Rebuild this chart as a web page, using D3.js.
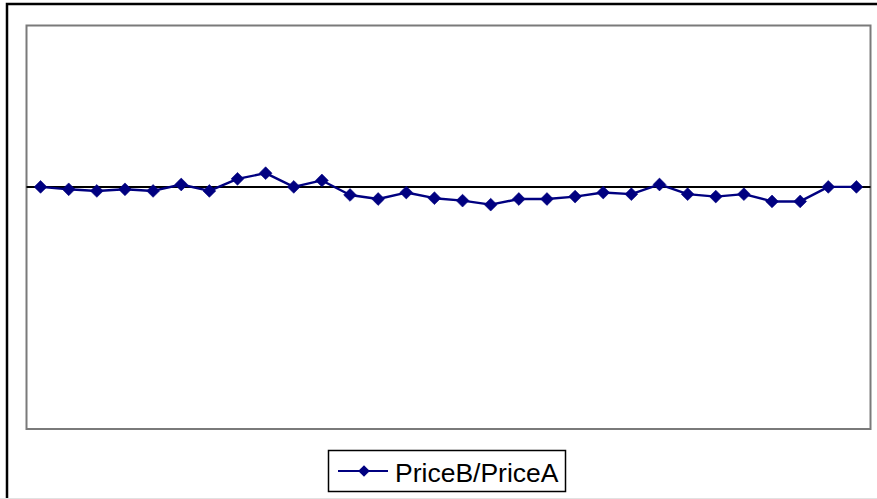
<!DOCTYPE html>
<html>
<head>
<meta charset="utf-8">
<script src="https://cdn.jsdelivr.net/npm/d3@7/dist/d3.min.js"></script>
<style>
  html, body { margin: 0; padding: 0; background: #fff; overflow: hidden; }
  svg { display: block; }
</style>
</head>
<body>
<svg id="chart" width="877" height="499"></svg>
<script>
// Periods along the category axis (labels are not shown on the chart)
const categories = d3.range(1, 31).map(String);

// Ratio of PriceB to PriceA for each period
const ratioValues = [
  1.000, 0.997, 0.995, 0.997, 0.995, 1.003, 0.995, 1.010, 1.017, 1.000,
  1.008, 0.990, 0.985, 0.993, 0.986, 0.983, 0.978, 0.985, 0.985, 0.988,
  0.993, 0.991, 1.003, 0.991, 0.988, 0.991, 0.982, 0.982, 1.000, 1.000
];

// Value axis range and the reference level drawn across the plot
const valueDomain = [0.7, 1.2];
const referenceLevel = 1.0;

const seriesName = "PriceB/PriceA";

const svg = d3.select("#chart");
const navy = "#000080";

// Chart area frame
svg.append("rect")
  .attr("x", 7).attr("y", 4)
  .attr("width", 880).attr("height", 505)
  .attr("fill", "#fff")
  .attr("stroke", "#000")
  .attr("stroke-width", 2.5);

svg.append("line")
  .attr("x1", 0).attr("x2", 877)
  .attr("y1", 498.5).attr("y2", 498.5)
  .attr("stroke", "#e2e2e2")
  .attr("stroke-width", 1);

// Plot area
const plot = { left: 26.5, top: 25.5, right: 870.5, bottom: 429 };

svg.append("rect")
  .attr("x", plot.left).attr("y", plot.top)
  .attr("width", plot.right - plot.left)
  .attr("height", plot.bottom - plot.top)
  .attr("fill", "#fff")
  .attr("stroke", "#7a7a7a")
  .attr("stroke-width", 2);

const x = d3.scalePoint()
  .domain(categories)
  .range([plot.left, plot.right])
  .padding(0.5);

const y = d3.scaleLinear()
  .domain(valueDomain)
  .range([plot.bottom, plot.top]);

// Reference line
svg.append("line")
  .attr("x1", plot.left).attr("x2", plot.right)
  .attr("y1", y(referenceLevel)).attr("y2", y(referenceLevel))
  .attr("stroke", "#000")
  .attr("stroke-width", 2);

const data = categories.map((c, i) => ({ c, v: ratioValues[i] }));

// Series line
svg.append("path")
  .datum(data)
  .attr("fill", "none")
  .attr("stroke", navy)
  .attr("stroke-width", 2.4)
  .attr("stroke-linejoin", "round")
  .attr("d", d3.line().x(d => x(d.c)).y(d => y(d.v)));

// Diamond markers
const diamond = (r) => `M0,${-r}L${r},0L0,${r}L${-r},0Z`;

svg.append("g")
  .selectAll("path")
  .data(data)
  .join("path")
  .attr("transform", d => `translate(${x(d.c)},${y(d.v)})`)
  .attr("d", diamond(6.4))
  .attr("fill", navy)
  .attr("stroke", navy)
  .attr("stroke-width", 0.6);

// Legend
const legend = svg.append("g");
legend.append("rect")
  .attr("x", 328.5).attr("y", 450.5)
  .attr("width", 237).attr("height", 41)
  .attr("fill", "#fff")
  .attr("stroke", "#000")
  .attr("stroke-width", 1.5);

legend.append("line")
  .attr("x1", 338).attr("x2", 388)
  .attr("y1", 471).attr("y2", 471)
  .attr("stroke", navy)
  .attr("stroke-width", 2);

legend.append("path")
  .attr("transform", "translate(364,471)")
  .attr("d", diamond(5.8))
  .attr("fill", navy);

legend.append("text")
  .attr("x", 395)
  .attr("y", 481.5)
  .attr("font-family", "'Liberation Sans', Arial, sans-serif")
  .attr("font-size", 26.5)
  .attr("fill", "#000")
  .text(seriesName);
</script>
</body>
</html>
